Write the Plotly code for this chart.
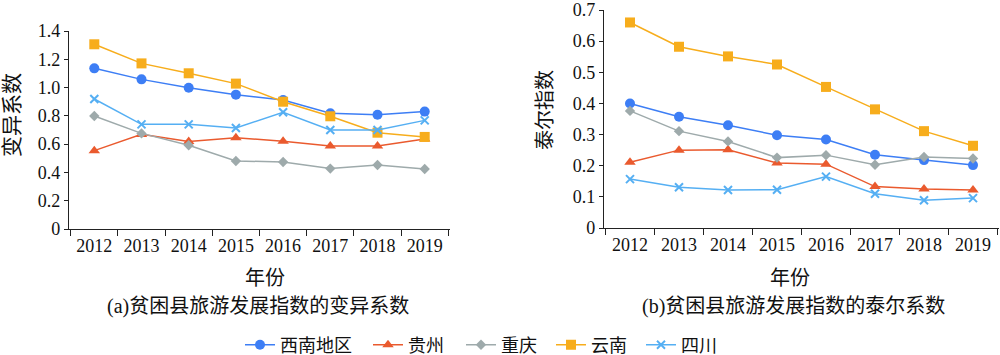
import plotly.graph_objects as go

years = ["2012", "2013", "2014", "2015", "2016", "2017", "2018", "2019"]
series_names = ["西南地区", "贵州", "重庆", "云南", "四川"]

# (a) 变异系数
cv_southwest = [1.136, 1.058, 0.999, 0.950, 0.912, 0.818, 0.808, 0.830]
cv_guizhou = [0.554, 0.669, 0.618, 0.646, 0.620, 0.587, 0.587, 0.636]
cv_chongqing = [0.799, 0.676, 0.592, 0.481, 0.474, 0.427, 0.453, 0.424]
cv_yunnan = [1.306, 1.171, 1.101, 1.028, 0.900, 0.797, 0.681, 0.651]
cv_sichuan = [0.919, 0.740, 0.740, 0.714, 0.825, 0.700, 0.700, 0.768]

# (b) 泰尔系数
th_southwest = [0.400, 0.357, 0.330, 0.298, 0.284, 0.235, 0.218, 0.202]
th_guizhou = [0.211, 0.250, 0.251, 0.209, 0.205, 0.133, 0.125, 0.122]
th_chongqing = [0.376, 0.311, 0.278, 0.226, 0.234, 0.203, 0.228, 0.223]
th_yunnan = [0.660, 0.582, 0.551, 0.525, 0.453, 0.381, 0.311, 0.264]
th_sichuan = [0.157, 0.131, 0.122, 0.123, 0.165, 0.110, 0.089, 0.096]

left_ticks = [0, 0.2, 0.4, 0.6, 0.8, 1.0, 1.2, 1.4]
left_tick_text = ["0", "0.2", "0.4", "0.6", "0.8", "1.0", "1.2", "1.4"]
right_ticks = [0, 0.1, 0.2, 0.3, 0.4, 0.5, 0.6, 0.7]
right_tick_text = ["0", "0.1", "0.2", "0.3", "0.4", "0.5", "0.6", "0.7"]

colors = ["#3d7ef5", "#ea5a2e", "#9eaaab", "#f7ad1c", "#55aff3"]
symbols = ["circle", "triangle-up", "diamond", "square", "x-thin"]
sizes = [10, 10, 8, 10, 8]
legend_widths = [83, 48, 45, 45, 45]

FONT = "Liberation Serif, Noto Sans CJK SC, serif"

left_data = [cv_southwest, cv_guizhou, cv_chongqing, cv_yunnan, cv_sichuan]
right_data = [th_southwest, th_guizhou, th_chongqing, th_yunnan, th_sichuan]

fig = go.Figure()
for i, name in enumerate(series_names):
    marker = dict(color=colors[i], symbol=symbols[i], size=sizes[i])
    if symbols[i] == "x-thin":
        marker["line"] = dict(color=colors[i], width=2)
    fig.add_trace(go.Scatter(x=years, y=left_data[i], name=name, mode="lines+markers",
                             line=dict(color=colors[i], width=1.5), marker=marker,
                             xaxis="x", yaxis="y", legendgroup=name, showlegend=True,
                             legendwidth=legend_widths[i]))
    fig.add_trace(go.Scatter(x=years, y=right_data[i], name=name, mode="lines+markers",
                             line=dict(color=colors[i], width=1.5), marker=marker,
                             xaxis="x2", yaxis="y2", legendgroup=name, showlegend=False))

axis_common = dict(showline=True, linecolor="#222", linewidth=1.3, showgrid=False,
                   zeroline=False, ticks="outside", tickcolor="#222", tickwidth=1.3,
                   automargin=False,
                   tickfont=dict(family=FONT, size=18, color="#111"))

fig.update_layout(
    width=1000, height=355,
    margin=dict(l=0, r=0, t=0, b=0, autoexpand=False),
    paper_bgcolor="white", plot_bgcolor="white",
    font=dict(family=FONT, color="#111"),
    xaxis=dict(domain=[0.069, 0.450], type="category", tickson="boundaries",
               ticklen=6, tickangle=0, anchor="y", **axis_common),
    yaxis=dict(domain=[1 - 229 / 355, 1 - 31 / 355], range=[0, 1.4],
               tickmode="array", tickvals=left_ticks, ticktext=left_tick_text, ticklen=4,
               anchor="x", **axis_common),
    xaxis2=dict(domain=[0.604, 0.999], type="category", tickson="boundaries",
                ticklen=6, tickangle=0, anchor="y2", **axis_common),
    yaxis2=dict(domain=[1 - 228 / 355, 1 - 10 / 355], range=[0, 0.7],
                tickmode="array", tickvals=right_ticks, ticktext=right_tick_text, ticklen=4,
                anchor="x2", **axis_common),
    legend=dict(orientation="h", x=0.240, xanchor="left", y=1 - 345 / 355,
                yanchor="middle", font=dict(family=FONT, size=18, color="#111"),
                itemwidth=30, tracegroupgap=0, bgcolor="rgba(0,0,0,0)"),
    showlegend=True,
)

annotations = [
    dict(text="变异系数", x=12 / 1000, y=1 - 115 / 355, textangle=-90, font=dict(size=21)),
    dict(text="泰尔指数", x=545 / 1000, y=1 - 110 / 355, textangle=-90, font=dict(size=20)),
    dict(text="年份", x=265 / 1000, y=1 - 278 / 355, font=dict(size=20)),
    dict(text="年份", x=790 / 1000, y=1 - 278 / 355, font=dict(size=20)),
    dict(text="(a)贫困县旅游发展指数的变异系数", x=258 / 1000, y=1 - 306 / 355, font=dict(size=20)),
    dict(text="(b)贫困县旅游发展指数的泰尔系数", x=793 / 1000, y=1 - 306 / 355, font=dict(size=20)),
]
for a in annotations:
    a.update(xref="paper", yref="paper", showarrow=False, xanchor="center", yanchor="middle")
    a["font"] = dict(family=FONT, color="#111", **a["font"])
fig.update_layout(annotations=annotations)

fig.write_html("out.html", config={"displayModeBar": False},
               post_script="document.body.style.margin='0';")
